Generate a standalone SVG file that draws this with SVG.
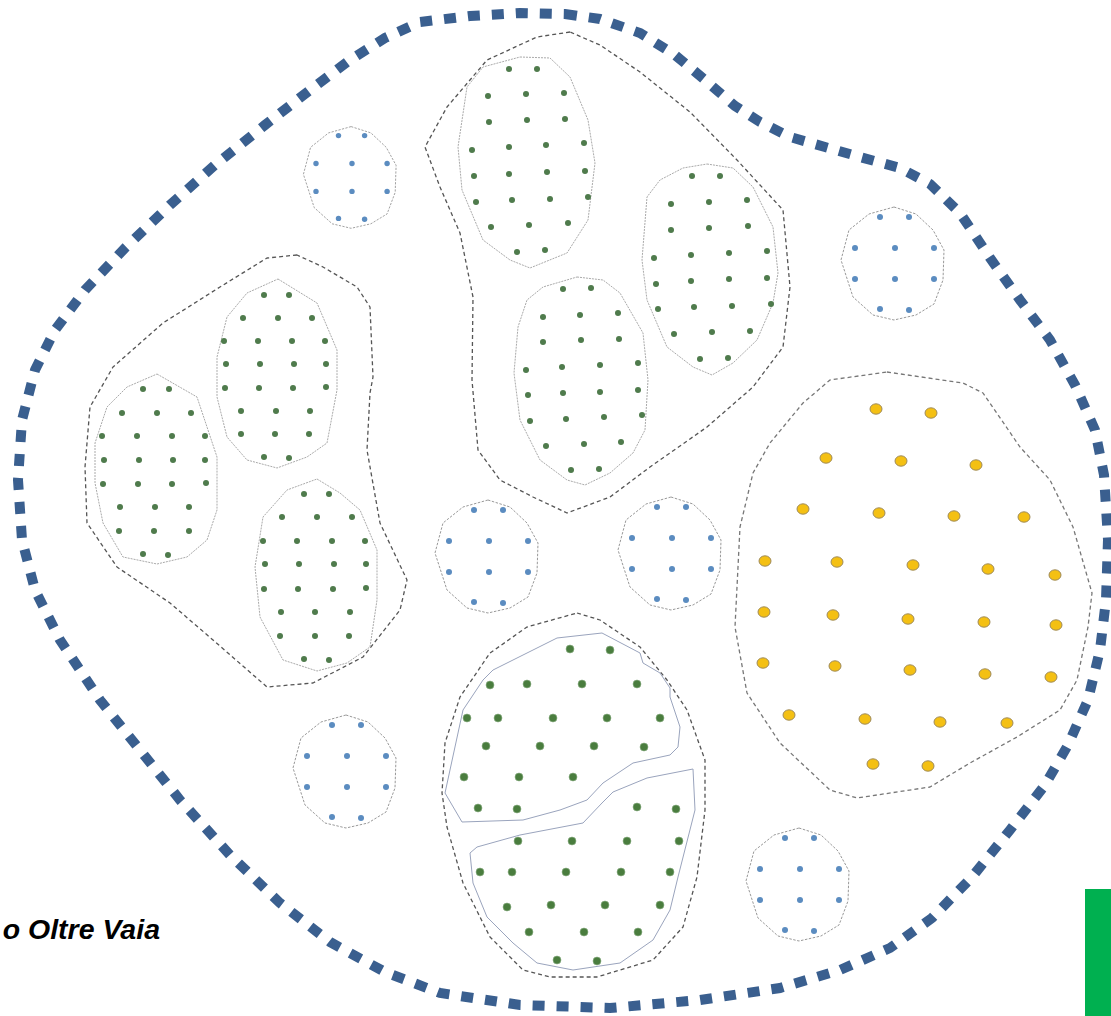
<svg xmlns="http://www.w3.org/2000/svg" xmlns:xlink="http://www.w3.org/1999/xlink" width="1111" height="1016" viewBox="0 0 1111 1016">
<style>
.border{fill:none;stroke:#3a5f8f;stroke-width:10;stroke-dasharray:12 12}
.grp{fill:none;stroke:#555;stroke-width:1.3;stroke-dasharray:4 3;stroke-linejoin:round}
.sub{fill:none;stroke:#aaa;stroke-width:1;stroke-dasharray:2 1;stroke-linejoin:round}
.subb{fill:none;stroke:#9aa4bd;stroke-width:1;stroke-linejoin:round}
.sml{fill:none;stroke:#999;stroke-width:1;stroke-dasharray:2.5 1.5;stroke-linejoin:round}
.g{fill:#4f7b4c}
.b{fill:#5b8cc0}
.G{fill:#4a7d3e;stroke:#8fb088;stroke-width:0.6}
.y{fill:#f4c013;stroke:#a08c5c;stroke-width:1}
.lbl{font-family:"Liberation Sans",Arial,sans-serif;font-weight:bold;font-style:italic;font-size:28.5px;fill:#000}
</style>
<defs>
<g id="bc">
<polygon class="sml" points="-1,-56 21,-49 38,-33 49,-13 48,17 39,41 21,52 -1,57 -22,52 -42,34 -54,-3 -46,-33 -26,-49"/>
<circle class="b" cx="-15" cy="-46" r="3"/><circle class="b" cx="14" cy="-46" r="3"/>
<circle class="b" cx="-40" cy="-15" r="3"/><circle class="b" cx="0" cy="-15" r="3"/><circle class="b" cx="39" cy="-15" r="3"/>
<circle class="b" cx="-40" cy="16" r="3"/><circle class="b" cx="0" cy="16" r="3"/><circle class="b" cx="39" cy="16" r="3"/>
<circle class="b" cx="-15" cy="46" r="3"/><circle class="b" cx="14" cy="47" r="3"/>
</g>
</defs>
<rect width="1111" height="1016" fill="#fff"/>

<g id="border">
<polygon class="border" points="565,14 600,19 640,33 675,55 705,80 735,106 760,122 790,137 825,147 860,157 900,168 930,184 960,213 990,258 1020,300 1050,340 1075,385 1095,430 1104,475 1108,540 1106,600 1100,650 1088,700 1068,745 1045,785 1010,830 972,877 932,918 890,948 840,970 780,988 700,1000 610,1008 520,1005 440,993 385,972 330,942 280,903 230,855 180,800 140,750 100,700 60,640 35,590 22,540 18,480 22,420 35,370 55,330 85,290 125,248 170,205 215,165 265,125 310,90 350,60 385,38 420,22 470,16 520,13"/>
</g>

<g id="group-left">
<polygon class="grp" points="297,255 267,258 220,287 163,323 113,367 90,407 85,467 87,523 117,567 170,603 213,640 267,687 313,683 363,657 400,610 407,580 380,523 367,450 370,393 373,377 370,307 357,287 323,267"/>
<g id="left-1">
<polygon class="sub" points="157,374 197,397 217,457 217,510 207,540 187,557 157,564 123,557 103,523 95,483 95,443 107,407 127,387"/>
<circle class="g" cx="143" cy="389" r="3"/><circle class="g" cx="169" cy="389" r="3"/>
<circle class="g" cx="122" cy="413" r="3"/><circle class="g" cx="157" cy="413" r="3"/><circle class="g" cx="191" cy="413" r="3"/>
<circle class="g" cx="102" cy="436" r="3"/><circle class="g" cx="137" cy="436" r="3"/><circle class="g" cx="172" cy="436" r="3"/><circle class="g" cx="205" cy="436" r="3"/>
<circle class="g" cx="104" cy="460" r="3"/><circle class="g" cx="139" cy="460" r="3"/><circle class="g" cx="173" cy="460" r="3"/><circle class="g" cx="205" cy="460" r="3"/>
<circle class="g" cx="103" cy="484" r="3"/><circle class="g" cx="138" cy="484" r="3"/><circle class="g" cx="172" cy="484" r="3"/><circle class="g" cx="206" cy="483" r="3"/>
<circle class="g" cx="120" cy="507" r="3"/><circle class="g" cx="155" cy="507" r="3"/><circle class="g" cx="189" cy="507" r="3"/>
<circle class="g" cx="119" cy="531" r="3"/><circle class="g" cx="154" cy="531" r="3"/><circle class="g" cx="189" cy="531" r="3"/>
<circle class="g" cx="143" cy="554" r="3"/><circle class="g" cx="168" cy="555" r="3"/>
</g>
<g id="left-2">
<polygon class="sub" points="278,279 317,303 337,350 337,390 327,443 307,457 277,468 247,460 227,437 217,397 217,357 227,317 247,293"/>
<circle class="g" cx="264" cy="295" r="3"/><circle class="g" cx="289" cy="295" r="3"/>
<circle class="g" cx="243" cy="318" r="3"/><circle class="g" cx="278" cy="318" r="3"/><circle class="g" cx="312" cy="318" r="3"/>
<circle class="g" cx="224" cy="341" r="3"/><circle class="g" cx="258" cy="341" r="3"/><circle class="g" cx="292" cy="341" r="3"/><circle class="g" cx="325" cy="341" r="3"/>
<circle class="g" cx="226" cy="364" r="3"/><circle class="g" cx="260" cy="364" r="3"/><circle class="g" cx="294" cy="364" r="3"/><circle class="g" cx="326" cy="364" r="3"/>
<circle class="g" cx="225" cy="388" r="3"/><circle class="g" cx="259" cy="388" r="3"/><circle class="g" cx="293" cy="388" r="3"/><circle class="g" cx="326" cy="387" r="3"/>
<circle class="g" cx="241" cy="411" r="3"/><circle class="g" cx="276" cy="411" r="3"/><circle class="g" cx="310" cy="411" r="3"/>
<circle class="g" cx="241" cy="434" r="3"/><circle class="g" cx="275" cy="434" r="3"/><circle class="g" cx="309" cy="434" r="3"/>
<circle class="g" cx="264" cy="457" r="3"/><circle class="g" cx="289" cy="458" r="3"/>
</g>
<g id="left-3">
<polygon class="sub" points="317,479 340,493 360,510 377,550 377,600 370,647 347,663 317,671 283,660 260,617 255,567 263,517 287,490"/>
<circle class="g" cx="304" cy="494" r="3"/><circle class="g" cx="329" cy="494" r="3"/>
<circle class="g" cx="282" cy="517" r="3"/><circle class="g" cx="317" cy="517" r="3"/><circle class="g" cx="352" cy="517" r="3"/>
<circle class="g" cx="263" cy="541" r="3"/><circle class="g" cx="297" cy="541" r="3"/><circle class="g" cx="332" cy="541" r="3"/><circle class="g" cx="365" cy="541" r="3"/>
<circle class="g" cx="265" cy="564" r="3"/><circle class="g" cx="299" cy="564" r="3"/><circle class="g" cx="334" cy="564" r="3"/><circle class="g" cx="366" cy="564" r="3"/>
<circle class="g" cx="264" cy="589" r="3"/><circle class="g" cx="298" cy="589" r="3"/><circle class="g" cx="333" cy="589" r="3"/><circle class="g" cx="366" cy="588" r="3"/>
<circle class="g" cx="281" cy="612" r="3"/><circle class="g" cx="315" cy="612" r="3"/><circle class="g" cx="350" cy="612" r="3"/>
<circle class="g" cx="280" cy="636" r="3"/><circle class="g" cx="315" cy="636" r="3"/><circle class="g" cx="349" cy="636" r="3"/>
<circle class="g" cx="304" cy="659" r="3"/><circle class="g" cx="329" cy="660" r="3"/>
</g>
</g>

<g id="group-middle">
<polygon class="grp" points="570,32 537,37 487,60 447,107 425,147 440,187 460,233 473,297 472,380 478,450 500,480 533,497 567,513 610,497 650,467 707,427 753,387 783,347 790,287 783,210 737,160 690,112 640,72 600,45"/>
<g id="middle-1">
<polygon class="sub" points="520,57 550,58 570,77 588,120 595,163 588,220 567,253 530,268 510,260 483,240 462,190 458,147 467,87 483,67"/>
<circle class="g" cx="509" cy="69" r="3"/><circle class="g" cx="537" cy="69" r="3"/>
<circle class="g" cx="488" cy="96" r="3"/><circle class="g" cx="526" cy="94" r="3"/><circle class="g" cx="564" cy="93" r="3"/>
<circle class="g" cx="489" cy="122" r="3"/><circle class="g" cx="527" cy="120" r="3"/><circle class="g" cx="565" cy="119" r="3"/>
<circle class="g" cx="472" cy="150" r="3"/><circle class="g" cx="509" cy="147" r="3"/><circle class="g" cx="546" cy="145" r="3"/><circle class="g" cx="584" cy="143" r="3"/>
<circle class="g" cx="474" cy="176" r="3"/><circle class="g" cx="509" cy="174" r="3"/><circle class="g" cx="547" cy="172" r="3"/><circle class="g" cx="585" cy="171" r="3"/>
<circle class="g" cx="476" cy="202" r="3"/><circle class="g" cx="512" cy="200" r="3"/><circle class="g" cx="550" cy="199" r="3"/><circle class="g" cx="588" cy="197" r="3"/>
<circle class="g" cx="491" cy="227" r="3"/><circle class="g" cx="529" cy="225" r="3"/><circle class="g" cx="568" cy="223" r="3"/>
<circle class="g" cx="517" cy="252" r="3"/><circle class="g" cx="545" cy="250" r="3"/>
</g>
<g id="middle-2">
<polygon class="sub" points="707,164 733,168 753,187 773,227 778,273 773,303 757,340 733,363 712,375 693,367 667,347 647,300 642,260 647,197 660,180 683,168"/>
<circle class="g" cx="692" cy="176" r="3"/><circle class="g" cx="720" cy="176" r="3"/>
<circle class="g" cx="671" cy="204" r="3"/><circle class="g" cx="709" cy="202" r="3"/><circle class="g" cx="747" cy="200" r="3"/>
<circle class="g" cx="671" cy="230" r="3"/><circle class="g" cx="709" cy="228" r="3"/><circle class="g" cx="748" cy="226" r="3"/>
<circle class="g" cx="654" cy="258" r="3"/><circle class="g" cx="691" cy="255" r="3"/><circle class="g" cx="729" cy="253" r="3"/><circle class="g" cx="767" cy="251" r="3"/>
<circle class="g" cx="656" cy="284" r="3"/><circle class="g" cx="691" cy="281" r="3"/><circle class="g" cx="729" cy="279" r="3"/><circle class="g" cx="767" cy="278" r="3"/>
<circle class="g" cx="658" cy="309" r="3"/><circle class="g" cx="694" cy="307" r="3"/><circle class="g" cx="732" cy="306" r="3"/><circle class="g" cx="771" cy="304" r="3"/>
<circle class="g" cx="674" cy="334" r="3"/><circle class="g" cx="712" cy="332" r="3"/><circle class="g" cx="750" cy="331" r="3"/>
<circle class="g" cx="700" cy="359" r="3"/><circle class="g" cx="728" cy="358" r="3"/>
</g>
<g id="middle-3">
<polygon class="sub" points="577,277 603,280 620,293 643,333 648,380 645,430 633,453 610,473 585,485 567,480 540,460 520,420 514,373 518,327 527,300 543,287"/>
<circle class="g" cx="563" cy="289" r="3"/><circle class="g" cx="591" cy="288" r="3"/>
<circle class="g" cx="543" cy="317" r="3"/><circle class="g" cx="580" cy="315" r="3"/><circle class="g" cx="618" cy="313" r="3"/>
<circle class="g" cx="543" cy="342" r="3"/><circle class="g" cx="581" cy="340" r="3"/><circle class="g" cx="619" cy="339" r="3"/>
<circle class="g" cx="526" cy="370" r="3"/><circle class="g" cx="562" cy="367" r="3"/><circle class="g" cx="600" cy="365" r="3"/><circle class="g" cx="638" cy="363" r="3"/>
<circle class="g" cx="528" cy="395" r="3"/><circle class="g" cx="563" cy="393" r="3"/><circle class="g" cx="600" cy="392" r="3"/><circle class="g" cx="638" cy="390" r="3"/>
<circle class="g" cx="530" cy="421" r="3"/><circle class="g" cx="566" cy="419" r="3"/><circle class="g" cx="604" cy="417" r="3"/><circle class="g" cx="642" cy="415" r="3"/>
<circle class="g" cx="546" cy="446" r="3"/><circle class="g" cx="584" cy="444" r="3"/><circle class="g" cx="621" cy="442" r="3"/>
<circle class="g" cx="571" cy="470" r="3"/><circle class="g" cx="599" cy="469" r="3"/>
</g>
</g>

<g id="group-bottom">
<polygon class="grp" points="577,613 600,620 640,647 667,680 687,710 705,760 705,810 697,877 683,927 653,960 597,977 550,977 523,970 490,937 463,883 447,827 442,793 445,743 460,697 490,653 527,627"/>
<g id="bottom-1">
<polygon class="subb" points="493,670 557,638 602,633 640,653 643,663 660,673 670,688 670,697 680,727 678,747 670,755 633,763 603,783 587,800 560,810 523,820 462,822 445,793 463,710 483,680"/>
<circle class="G" cx="570" cy="649" r="4"/><circle class="G" cx="610" cy="650" r="4"/>
<circle class="G" cx="490" cy="685" r="4"/><circle class="G" cx="527" cy="684" r="4"/><circle class="G" cx="582" cy="684" r="4"/><circle class="G" cx="637" cy="684" r="4"/>
<circle class="G" cx="467" cy="718" r="4"/><circle class="G" cx="498" cy="718" r="4"/><circle class="G" cx="553" cy="718" r="4"/><circle class="G" cx="607" cy="718" r="4"/><circle class="G" cx="660" cy="718" r="4"/>
<circle class="G" cx="486" cy="746" r="4"/><circle class="G" cx="540" cy="746" r="4"/><circle class="G" cx="594" cy="746" r="4"/><circle class="G" cx="644" cy="747" r="4"/>
<circle class="G" cx="464" cy="777" r="4"/><circle class="G" cx="519" cy="777" r="4"/><circle class="G" cx="573" cy="777" r="4"/>
<circle class="G" cx="478" cy="808" r="4"/><circle class="G" cx="517" cy="809" r="4"/>
</g>
<g id="bottom-2">
<polygon class="subb" points="470,853 477,847 520,835 583,823 602,803 613,792 647,778 693,769 695,810 678,877 670,910 653,940 620,963 573,970 537,963 513,943 500,930 487,917 473,883"/>
<circle class="G" cx="637" cy="807" r="4"/><circle class="G" cx="676" cy="809" r="4"/>
<circle class="G" cx="518" cy="841" r="4"/><circle class="G" cx="572" cy="841" r="4"/><circle class="G" cx="627" cy="841" r="4"/><circle class="G" cx="679" cy="841" r="4"/>
<circle class="G" cx="480" cy="872" r="4"/><circle class="G" cx="512" cy="872" r="4"/><circle class="G" cx="566" cy="872" r="4"/><circle class="G" cx="621" cy="872" r="4"/><circle class="G" cx="670" cy="872" r="4"/>
<circle class="G" cx="507" cy="907" r="4"/><circle class="G" cx="551" cy="905" r="4"/><circle class="G" cx="605" cy="905" r="4"/><circle class="G" cx="660" cy="905" r="4"/>
<circle class="G" cx="529" cy="932" r="4"/><circle class="G" cx="584" cy="932" r="4"/><circle class="G" cx="638" cy="932" r="4"/>
<circle class="G" cx="557" cy="960" r="4"/><circle class="G" cx="597" cy="961" r="4"/>
</g>
</g>

<g id="group-yellow">
<polygon class="grp" style="stroke:#777" points="887,372 963,383 983,393 1020,447 1050,480 1073,527 1092,593 1088,627 1077,680 1060,710 1017,737 970,763 930,787 857,798 830,790 780,743 747,693 735,627 740,527 753,473 770,443 803,403 830,380"/>
<ellipse class="y" cx="876" cy="409" rx="6" ry="5.2"/><ellipse class="y" cx="931" cy="413" rx="6" ry="5.2"/>
<ellipse class="y" cx="826" cy="458" rx="6" ry="5.2"/><ellipse class="y" cx="901" cy="461" rx="6" ry="5.2"/><ellipse class="y" cx="976" cy="465" rx="6" ry="5.2"/>
<ellipse class="y" cx="803" cy="509" rx="6" ry="5.2"/><ellipse class="y" cx="879" cy="513" rx="6" ry="5.2"/><ellipse class="y" cx="954" cy="516" rx="6" ry="5.2"/><ellipse class="y" cx="1024" cy="517" rx="6" ry="5.2"/>
<ellipse class="y" cx="765" cy="561" rx="6" ry="5.2"/><ellipse class="y" cx="837" cy="562" rx="6" ry="5.2"/><ellipse class="y" cx="913" cy="565" rx="6" ry="5.2"/><ellipse class="y" cx="988" cy="569" rx="6" ry="5.2"/><ellipse class="y" cx="1055" cy="575" rx="6" ry="5.2"/>
<ellipse class="y" cx="764" cy="612" rx="6" ry="5.2"/><ellipse class="y" cx="833" cy="615" rx="6" ry="5.2"/><ellipse class="y" cx="908" cy="619" rx="6" ry="5.2"/><ellipse class="y" cx="984" cy="622" rx="6" ry="5.2"/><ellipse class="y" cx="1056" cy="625" rx="6" ry="5.2"/>
<ellipse class="y" cx="763" cy="663" rx="6" ry="5.2"/><ellipse class="y" cx="835" cy="666" rx="6" ry="5.2"/><ellipse class="y" cx="910" cy="670" rx="6" ry="5.2"/><ellipse class="y" cx="985" cy="674" rx="6" ry="5.2"/><ellipse class="y" cx="1051" cy="677" rx="6" ry="5.2"/>
<ellipse class="y" cx="789" cy="715" rx="6" ry="5.2"/><ellipse class="y" cx="865" cy="719" rx="6" ry="5.2"/><ellipse class="y" cx="940" cy="722" rx="6" ry="5.2"/><ellipse class="y" cx="1007" cy="723" rx="6" ry="5.2"/>
<ellipse class="y" cx="873" cy="764" rx="6" ry="5.2"/><ellipse class="y" cx="928" cy="766" rx="6" ry="5.2"/>
</g>

<g id="cluster-a"><use xlink:href="#bc" href="#bc" transform="translate(352,177) scale(0.9)"/></g>
<g id="cluster-b"><use xlink:href="#bc" href="#bc" transform="translate(489,556)"/></g>
<g id="cluster-c"><use xlink:href="#bc" href="#bc" transform="translate(672,553)"/></g>
<g id="cluster-d"><use xlink:href="#bc" href="#bc" transform="translate(347,771)"/></g>
<g id="cluster-e"><use xlink:href="#bc" href="#bc" transform="translate(800,884)"/></g>
<g id="cluster-f"><use xlink:href="#bc" href="#bc" transform="translate(895,263)"/></g>

<g id="label">
<text class="lbl" x="160" y="939" text-anchor="end">o Oltre Vaia</text>
</g>
<g id="green-bar">
<rect x="1085" y="889" width="26" height="127" fill="#00b050"/>
</g>
<g id="connectors"/>
</svg>
